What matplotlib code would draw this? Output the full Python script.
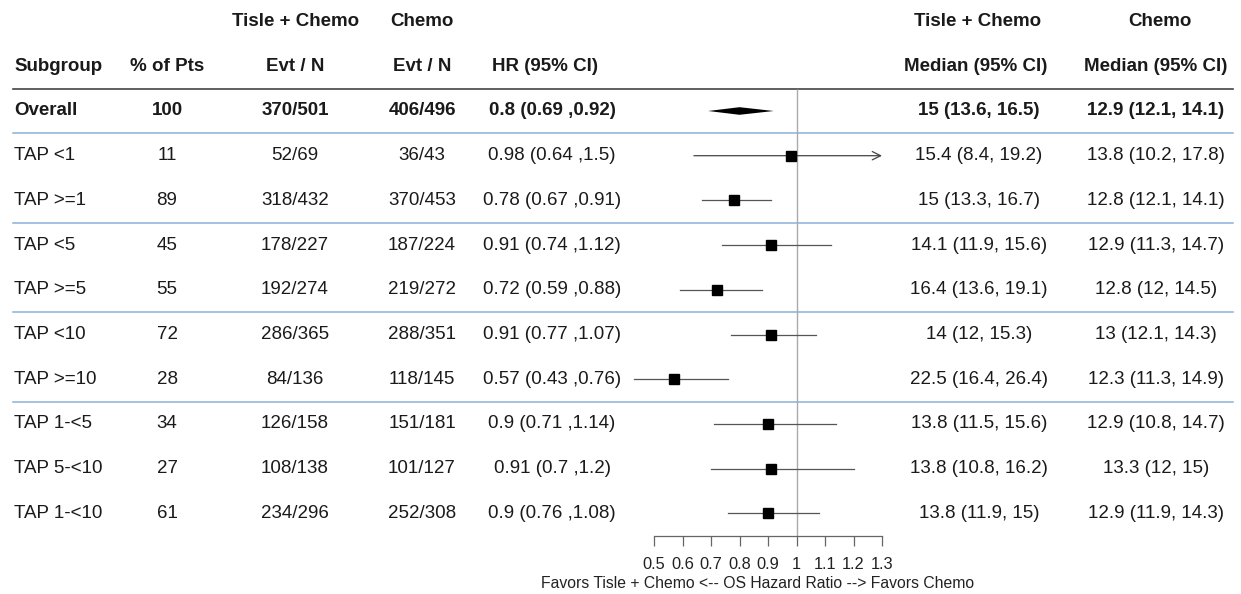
import numpy as np
import matplotlib
matplotlib.use("Agg")
import matplotlib.pyplot as plt
from matplotlib.transforms import blended_transform_factory

plt.rcParams['font.family'] = ['Liberation Sans', 'DejaVu Sans']

# data
subgroups = ['Overall', 'TAP <1', 'TAP >=1', 'TAP <5', 'TAP >=5', 'TAP <10',
             'TAP >=10', 'TAP 1-<5', 'TAP 5-<10', 'TAP 1-<10']
pct_pts = [100, 11, 89, 45, 55, 72, 28, 34, 27, 61]
evt_tc = [370, 52, 318, 178, 192, 286, 84, 126, 108, 234]
n_tc = [501, 69, 432, 227, 274, 365, 136, 158, 138, 296]
evt_c = [406, 36, 370, 187, 219, 288, 118, 151, 101, 252]
n_c = [496, 43, 453, 224, 272, 351, 145, 181, 127, 308]
hr = [0.8, 0.98, 0.78, 0.91, 0.72, 0.91, 0.57, 0.9, 0.91, 0.9]
hr_lo = [0.69, 0.64, 0.67, 0.74, 0.59, 0.77, 0.43, 0.71, 0.7, 0.76]
hr_hi = [0.92, 1.5, 0.91, 1.12, 0.88, 1.07, 0.76, 1.14, 1.2, 1.08]
med_tc = [15, 15.4, 15, 14.1, 16.4, 14, 22.5, 13.8, 13.8, 13.8]
med_tc_lo = [13.6, 8.4, 13.3, 11.9, 13.6, 12, 16.4, 11.5, 10.8, 11.9]
med_tc_hi = [16.5, 19.2, 16.7, 15.6, 19.1, 15.3, 26.4, 15.6, 16.2, 15]
med_c = [12.9, 13.8, 12.8, 12.9, 12.8, 13, 12.3, 12.9, 13.3, 12.9]
med_c_lo = [12.1, 10.2, 12.1, 11.3, 12, 12.1, 11.3, 10.8, 12, 11.9]
med_c_hi = [14.1, 17.8, 14.1, 14.7, 14.5, 14.3, 14.9, 14.7, 15, 14.3]
hr_ticks = [0.5, 0.6, 0.7, 0.8, 0.9, 1, 1.1, 1.2, 1.3]
x_max = 1.3

W, H = 1241, 594
fig = plt.figure(figsize=(W / 100, H / 100), dpi=100)
ax = fig.add_axes([600 / W, 0, 300 / W, 1])
ax.set_xlim(0.5 - 54 / 285, 0.5 + 246 / 285)
ax.set_ylim(10.805, -2.483)
ax.patch.set_alpha(0)
for s in ['top', 'left', 'right']:
    ax.spines[s].set_visible(False)
ax.set_yticks([])

# x axis drawn R style below the rows
ax.spines['bottom'].set_position(('data', 9.51))
ax.spines['bottom'].set_bounds(hr_ticks[0], hr_ticks[-1])
ax.spines['bottom'].set_color('#666666')
ax.spines['bottom'].set_linewidth(0.9)
ax.set_xticks(hr_ticks)
ax.set_xticklabels([f'{t:g}' for t in hr_ticks])
ax.tick_params(axis='x', direction='out', length=7, width=0.9, color='#666666',
               labelsize=11.8, pad=8, labelcolor='#222222')
fig.text(758 / W, 1 - 583 / H, 'Favors Tisle + Chemo <-- OS Hazard Ratio --> Favors Chemo',
         ha='center', va='center', fontsize=11.3, color='#222222')

txt = '#1a1a1a'
tr = blended_transform_factory(fig.transFigure, ax.transData)

# separator lines
ax.plot([13 / W, 1233 / W], [-0.5, -0.5], transform=tr, color='#444444', lw=1.2, clip_on=False)
for yb in [0.5, 2.5, 4.5, 6.5]:
    ax.plot([13 / W, 1233 / W], [yb, yb], transform=tr, color='#8ab0d8', lw=1.1, clip_on=False)

# reference line
ax.vlines(1, -0.5, 9.51, color='#aaaaaa', lw=1)

# forest marks
for i in range(len(subgroups)):
    if i == 0:
        h = 0.085
        ax.fill([hr_lo[i], hr[i], hr_hi[i], hr[i]], [i, i - h, i, i + h],
                color='black', lw=0)
        continue
    hi = min(hr_hi[i], x_max)
    if hr_hi[i] > x_max:
        ax.annotate('', xy=(x_max, i), xytext=(hr_lo[i], i),
                    arrowprops=dict(arrowstyle='->', color='#444444', lw=0.9,
                                    mutation_scale=15, shrinkA=0, shrinkB=0))
    else:
        ax.plot([hr_lo[i], hi], [i, i], color='#555555', lw=0.9)
    ax.plot(hr[i], i, marker='s', ms=6.5, color='black', zorder=3)

# header
fs = 13.5
hkw = dict(transform=tr, va='center', fontsize=fs, weight='bold', color=txt)
ax.text(14 / W, -1, 'Subgroup', ha='left', **hkw)
ax.text(167 / W, -1, '% of Pts', ha='center', **hkw)
ax.text(296 / W, -2, 'Tisle + Chemo', ha='center', **hkw)
ax.text(295 / W, -1, 'Evt / N', ha='center', **hkw)
ax.text(422 / W, -2, 'Chemo', ha='center', **hkw)
ax.text(422 / W, -1, 'Evt / N', ha='center', **hkw)
ax.text(545 / W, -1, 'HR (95% CI)', ha='center', **hkw)
ax.text(978 / W, -2, 'Tisle + Chemo', ha='center', **hkw)
ax.text(976 / W, -1, 'Median (95% CI)', ha='center', **hkw)
ax.text(1160 / W, -2, 'Chemo', ha='center', **hkw)
ax.text(1156 / W, -1, 'Median (95% CI)', ha='center', **hkw)

# rows
for i in range(len(subgroups)):
    w = 'bold' if i == 0 else 'normal'
    kw = dict(transform=tr, va='center', fontsize=fs, weight=w, color=txt)
    ax.text(14 / W, i, subgroups[i], ha='left', **kw)
    ax.text(167 / W, i, f'{pct_pts[i]}', ha='center', **kw)
    ax.text(295 / W, i, f'{evt_tc[i]}/{n_tc[i]}', ha='center', **kw)
    ax.text(422 / W, i, f'{evt_c[i]}/{n_c[i]}', ha='center', **kw)
    ax.text(552 / W, i, f'{hr[i]:g} ({hr_lo[i]:g} ,{hr_hi[i]:g})', ha='center', **kw)
    ax.text(979 / W, i, f'{med_tc[i]:g} ({med_tc_lo[i]:g}, {med_tc_hi[i]:g})', ha='center', **kw)
    ax.text(1156 / W, i, f'{med_c[i]:g} ({med_c_lo[i]:g}, {med_c_hi[i]:g})', ha='center', **kw)

fig.savefig('out.png', dpi=100)
